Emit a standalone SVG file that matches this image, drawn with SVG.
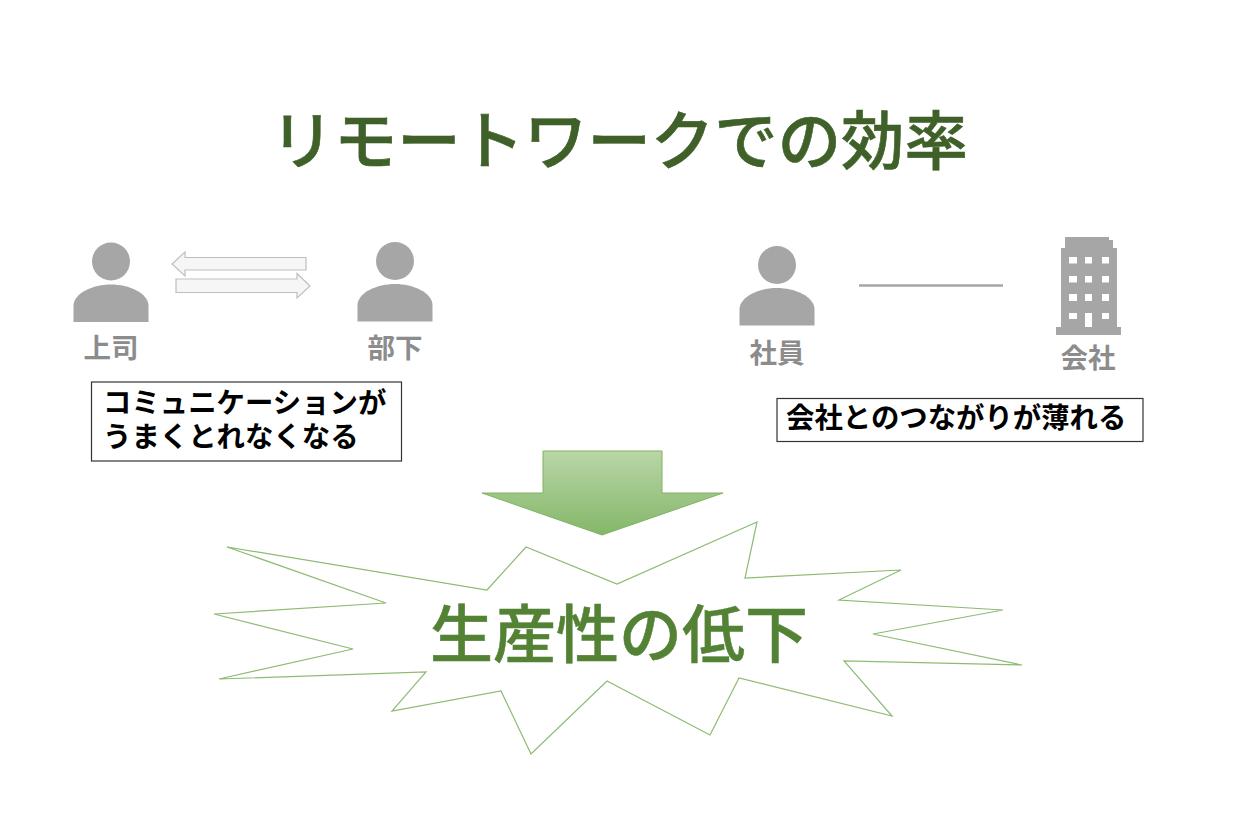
<svg xmlns="http://www.w3.org/2000/svg" width="1260" height="840" viewBox="0 0 1260 840">
<style>
text{font-family:"Noto Sans CJK JP","Noto Sans CJK SC",sans-serif}
.title{font-size:63.4px;font-weight:500;fill:#3f6129;stroke:#3f6129;stroke-width:.6}
.big{font-size:63px;font-weight:500;fill:#548235;stroke:#548235;stroke-width:.5}
.lab{font-size:27.500px;font-weight:700;fill:#8c8c8c;text-anchor:middle}
.box{font-size:28.4px;font-weight:700;fill:#000}
.frame{fill:#fff;stroke:#333;stroke-width:1.2}
.icon{fill:#a6a6a6}
.arr{fill:#f6f6f6;stroke:#bfbfbf;stroke-width:1.2}
</style>
<defs>
<linearGradient id="g" x1="0" y1="0" x2="0" y2="1"><stop offset="0" stop-color="#b9d6a6"/><stop offset="1" stop-color="#84b769"/></linearGradient>
<g id="person"><circle cx="0" cy="-60.500" r="19"/><path d="M-37.500 0V-16C-37.500 -29 -18 -37.500 0 -37.500S37.500 -29 37.500 -16V0Z"/></g>
</defs>
<rect width="1260" height="840" fill="#fff"/>
<text class="title" x="270.500" y="164">リモートワークでの効率</text>
<g id="boss"><use href="#person" class="icon" x="111" y="322"/><text class="lab" x="111" y="358">上司</text></g>
<g id="sub"><use href="#person" class="icon" x="395" y="321.500"/><text class="lab" x="395" y="358">部下</text></g>
<g id="employee"><use href="#person" class="icon" x="777" y="325.500"/><text class="lab" x="777" y="363">社員</text></g>
<g id="company">
<path class="icon" fill-rule="evenodd" d="M1065 237H1109V240H1113V248H1117V327H1121V335H1056V327H1061V248H1065ZM1069 257V263.500H1077V257ZM1085 257V263.500H1092V257ZM1102 257V263.500H1109V257ZM1069 276V282.500H1077V276ZM1085 276V282.500H1092V276ZM1102 276V282.500H1109V276ZM1069 294V301H1077V294ZM1085 294V301H1092V294ZM1102 294V301H1109V294ZM1069 313V319H1077V313ZM1085 313V327H1092V313ZM1102 313V319H1109V313Z"/>
<text class="lab" x="1088" y="368">会社</text></g>
<g id="connectors">
<path class="arr" d="M306 257.500V270H185V276L172 264L185 252V257.500Z"/>
<path class="arr" d="M176 279V292.500H297V298L310 286L297 273.500V279Z"/>
<line x1="859" y1="285.500" x2="1003" y2="285.500" stroke="#a6a6a6" stroke-width="2.500"/>
</g>
<g id="note1"><rect class="frame" x="91.500" y="382" width="310" height="79"/><text class="box" x="103" y="413">コミュニケーションが</text><text class="box" x="103" y="447">うまくとれなくなる</text></g>
<g id="note2"><rect class="frame" x="777" y="398.500" width="366" height="43"/><text class="box" x="786" y="428">会社とのつながりが薄れる</text></g>
<g id="down-arrow"><path d="M543 451H662V493H723L602 535L482 493H543Z" fill="url(#g)" stroke="#7fb264" stroke-width="1"/></g>
<g id="burst"><path d="M227 547L487 590L526 547L617 584L757 522L745 578L901 570L839 600L1003 610L873 634L1022 665L844 661L892 716L739 678L710 735L607 681L531 754L501 691L392 711L426 672L219 679L353 649L214 614L386 603Z" fill="#fff" stroke="#8dbb72" stroke-width="1.200"/>
<text class="big" x="430" y="657">生産性の低下</text></g>
</svg>
